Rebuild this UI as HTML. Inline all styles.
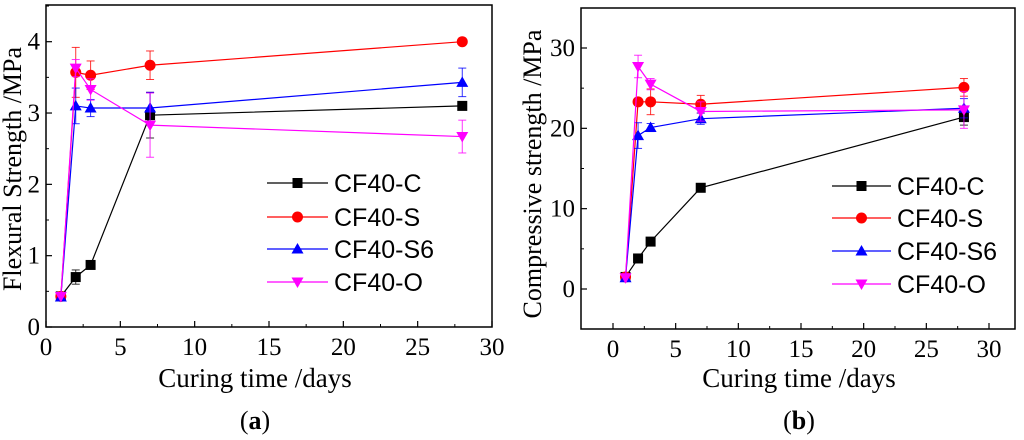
<!DOCTYPE html>
<html><head><meta charset="utf-8"><style>
html,body{margin:0;padding:0;background:#fff;}
svg{display:block;font-family:"Liberation Serif",serif;}
</style></head><body>
<svg id="chart" width="1024" height="440" viewBox="0 0 1024 440" xmlns="http://www.w3.org/2000/svg"></svg>
<script>
const days = [1, 2, 3, 7, 28];
const seriesNames = ["CF40-C", "CF40-S", "CF40-S6", "CF40-O"];
const flexC = [0.43, 0.70, 0.87, 2.97, 3.10];
const flexS = [0.43, 3.57, 3.53, 3.67, 4.00];
const flexS6 = [0.42, 3.10, 3.07, 3.07, 3.43];
const flexO = [0.43, 3.63, 3.33, 2.83, 2.67];
const flexErrC = [0, 0.10, 0, 0.32, 0];
const flexErrS = [0, 0.35, 0.20, 0.20, 0];
const flexErrS6 = [0, 0.25, 0.12, 0.22, 0.20];
const flexErrO = [0, 0.12, 0.15, 0.45, 0.23];
const compC = [1.5, 3.8, 5.9, 12.6, 21.4];
const compS = [1.5, 23.3, 23.3, 23.0, 25.1];
const compS6 = [1.4, 19.1, 20.1, 21.2, 22.5];
const compO = [1.4, 27.7, 25.5, 22.1, 22.3];
const compErrC = [0, 0, 0, 0, 1.0];
const compErrS = [0, 0, 1.6, 1.1, 1.1];
const compErrS6 = [0, 1.6, 0.5, 0.7, 1.2];
const compErrO = [0, 1.4, 0.7, 1.2, 2.3];
const xTicks = [0, 5, 10, 15, 20, 25, 30];
const flexYTicks = [0, 1, 2, 3, 4];
const compYTicks = [0, 10, 20, 30];

const NS = "http://www.w3.org/2000/svg";
const svg = document.getElementById("chart");
const colors = ["#000000", "#ff0000", "#0000ff", "#ff00ff"];
const SERIF = '"Liberation Serif", serif';
const SANS = '"Liberation Sans", sans-serif';
function mk(tag, attrs, parent){const e=document.createElementNS(NS,tag);for(const k in attrs)e.setAttribute(k,attrs[k]);(parent||svg).appendChild(e);return e;}

function marker(g, type, x, y, c){
  let m;
  if(type===0){m=mk("rect",{x:x-5,y:y-5,width:10,height:10,fill:c},g);}
  else if(type===1){m=mk("circle",{cx:x,cy:y,r:5.5,fill:c},g);}
  else if(type===2){m=mk("polygon",{points:`${x},${y-6} ${x+6},${y+4.5} ${x-6},${y+4.5}`,fill:c},g);}
  else {m=mk("polygon",{points:`${x},${y+6} ${x+6},${y-4.5} ${x-6},${y-4.5}`,fill:c},g);}
  
  
}

function drawChart(cfg){
  const g = mk("g",{});
  
  
  const X = v => cfg.x0 + (v - 0) * (cfg.x30 - cfg.x0) / 30;
  const Y = v => cfg.y0 + (v - cfg.ya) * (cfg.yb - cfg.y0) / (cfg.yb_v - cfg.ya);
  const fr = mk("rect",{x:cfg.l,y:cfg.t,width:cfg.r-cfg.l,height:cfg.b-cfg.t,fill:"none",stroke:"#000","stroke-width":1.5},g);
  
  
  xTicks.forEach((v,i)=>{
    const x=X(v);
    mk("line",{x1:x,y1:cfg.b,x2:x,y2:cfg.b-6,stroke:"#000","stroke-width":1.2},g);
    if(i<xTicks.length-1){const xm=X(v+2.5);mk("line",{x1:xm,y1:cfg.b,x2:xm,y2:cfg.b-3,stroke:"#000","stroke-width":1},g);}
    const t=mk("text",{x:x,y:cfg.b+28,"font-size":25,"text-anchor":"middle","font-family":SERIF},g);t.textContent=v;
    
    
  });
  cfg.yTicks.forEach((v,i)=>{
    const y=Y(v);
    mk("line",{x1:cfg.l,y1:y,x2:cfg.l+6,y2:y,stroke:"#000","stroke-width":1.2},g);
    const ym=Y(v+cfg.ystep/2);
    if(ym>cfg.t) mk("line",{x1:cfg.l,y1:ym,x2:cfg.l+3,y2:ym,stroke:"#000","stroke-width":1},g);
    const ymb=Y(v-cfg.ystep/2);
    if(i===0 && ymb<cfg.b) mk("line",{x1:cfg.l,y1:ymb,x2:cfg.l+3,y2:ymb,stroke:"#000","stroke-width":1},g);
    const t=mk("text",{x:cfg.l-6,y:y+8,"font-size":25,"text-anchor":"end","font-family":SERIF},g);t.textContent=v;
    
    
  });
  cfg.series.forEach((s,si)=>{
    const c=colors[si];
    const sg=mk("g",{},g);
    
    
    s.err.forEach((e,i)=>{
      if(e<=0) return;
      const x=X(days[i]), y1=Y(s.v[i]-e), y2=Y(s.v[i]+e);
      mk("line",{x1:x,y1:y1,x2:x,y2:y2,stroke:c,"stroke-width":1,opacity:0.8},sg);
      mk("line",{x1:x-4,y1:y1,x2:x+4,y2:y1,stroke:c,"stroke-width":1,opacity:0.8},sg);
      mk("line",{x1:x-4,y1:y2,x2:x+4,y2:y2,stroke:c,"stroke-width":1,opacity:0.8},sg);
    });
    const pts=s.v.map((v,i)=>X(days[i])+","+Y(v)).join(" ");
    const pl=mk("polyline",{points:pts,fill:"none",stroke:c,"stroke-width":1.2},sg);
    
    
    s.v.forEach((v,i)=>marker(sg,si,X(days[i]),Y(v),c));
    const ly=cfg.legY[si];
    const lg=mk("g",{},g);
    
    
    mk("line",{x1:cfg.legX1,y1:ly,x2:cfg.legX2,y2:ly,stroke:c,"stroke-width":1.2},lg);
    marker(lg,si,(cfg.legX1+cfg.legX2)/2,ly,c);
    const t=mk("text",{x:cfg.legX2+6,y:ly+9,"font-size":25,"font-family":SANS},lg);t.textContent=seriesNames[si];
  });
  const xt=mk("text",{x:cfg.xtX,y:387,"font-size":27,"text-anchor":"middle","font-family":SERIF},g);xt.textContent="Curing time /days";
  
  
  const yt=mk("text",{x:0,y:0,"font-size":cfg.ytSize,"text-anchor":"middle","font-family":SERIF,transform:`translate(${cfg.ytX},${cfg.ytY}) rotate(-90)`},g);yt.textContent=cfg.ytitle;
  
  
  const pl=mk("text",{x:cfg.xtX,y:429,"font-size":26,"text-anchor":"middle","font-family":SERIF},g);
  pl.innerHTML='(<tspan font-weight="bold">'+cfg.panel+'</tspan>)';
  
  
}

drawChart({name:"flexural-chart",l:46,r:492,t:5,b:327,x0:46,x30:492,y0:327,ya:0,yb:41.7,yb_v:4,ystep:1,
  yTicks:flexYTicks,
  series:[{v:flexC,err:flexErrC},{v:flexS,err:flexErrS},{v:flexS6,err:flexErrS6},{v:flexO,err:flexErrO}],
  legX1:267,legX2:328,legY:[183,217,249,282],xtX:255,ytX:21,ytY:169,ytSize:26,ytitle:"Flexural Strength /MPa",panel:"a"});
drawChart({name:"compressive-chart",l:581,r:1015,t:8,b:329,x0:613,x30:989,y0:289,ya:0,yb:48,yb_v:30,ystep:10,
  yTicks:compYTicks,
  series:[{v:compC,err:compErrC},{v:compS,err:compErrS},{v:compS6,err:compErrS6},{v:compO,err:compErrO}],
  legX1:832,legX2:891,legY:[186,218,251,284],xtX:799,ytX:541,ytY:174,ytSize:26,ytitle:"Compressive strength /MPa",panel:"b"});
</script>
</body></html>
